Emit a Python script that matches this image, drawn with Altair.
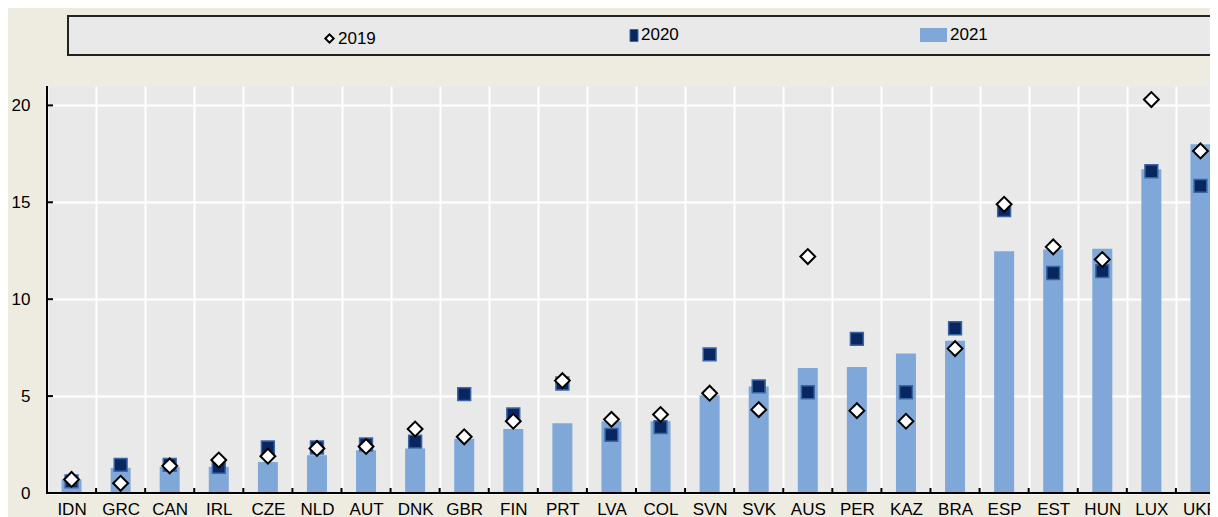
import altair as alt
import pandas as pd

countries = ["IDN", "GRC", "CAN", "IRL", "CZE", "NLD", "AUT", "DNK", "GBR", "FIN", "PRT", "LVA",
             "COL", "SVN", "SVK", "AUS", "PER", "KAZ", "BRA", "ESP", "EST", "HUN", "LUX", "UKR"]
v2019 = [0.7, 0.5, 1.4, 1.7, 1.9, 2.3, 2.4, 3.3, 2.9, 3.7, 5.8, 3.8,
         4.05, 5.15, 4.3, 12.2, 4.25, 3.7, 7.45, 14.9, 12.7, 12.05, 20.3, 17.65]
v2020 = [0.6, 1.45, 1.45, 1.35, 2.35, 2.35, 2.5, 2.65, 5.1, 4.05, 5.65, 3.0,
         3.4, 7.15, 5.5, 5.2, 7.95, 5.2, 8.5, 14.6, 11.35, 11.45, 16.6, 15.85]
v2021 = [0.7, 1.3, 1.35, 1.35, 1.6, 1.95, 2.2, 2.3, 2.8, 3.3, 3.6, 3.7,
         3.7, 5.05, 5.5, 6.45, 6.5, 7.2, 7.85, 12.47, 12.57, 12.6, 16.7, 18.0]
y_ticks = [0, 5, 10, 15, 20]
legend_labels = ["2019", "2020", "2021"]

FONT = "Liberation Sans, Arial, sans-serif"
FS = 17
BAR = "#7FA8D9"
NAVY = "#0A2660"
NAVY_EDGE = "#3A67A3"
W, H = 1178, 407

df = pd.DataFrame({"country": countries, "v2019": v2019, "v2020": v2020, "v2021": v2021})

xenc = alt.X("country:N", sort=countries, title=None,
             scale=alt.Scale(paddingInner=0, paddingOuter=0),
             axis=alt.Axis(labelAngle=0, labelFont=FONT, labelFontSize=FS, labelColor="#000000",
                           ticks=False, labelPadding=8, grid=True, gridColor="#FFFFFF",
                           gridWidth=2, tickBand="extent", domain=False))
yscale = alt.Scale(domain=[0, 21], nice=False)
yaxis = alt.Axis(values=y_ticks, labelFont=FONT, labelFontSize=FS, labelColor="#000000",
                 ticks=False, labelPadding=17, grid=True, gridColor="#FFFFFF", gridWidth=2,
                 domain=False, title=None)

base = alt.Chart(df)

bars = base.mark_bar(color=BAR, size=20).encode(
    x=xenc,
    y=alt.Y("v2021:Q", scale=yscale, axis=yaxis),
)
squares = base.mark_point(shape="square", filled=True, size=165, fill=NAVY, stroke=NAVY_EDGE,
                          strokeWidth=1.5, opacity=1).encode(
    x=alt.X("country:N", sort=countries),
    y=alt.Y("v2020:Q", scale=yscale),
)
diamonds = base.mark_point(shape="diamond", filled=True, size=220, fill="#FFFFFF",
                           stroke="#000000", strokeWidth=2, opacity=1).encode(
    x=alt.X("country:N", sort=countries),
    y=alt.Y("v2019:Q", scale=yscale),
)

# axis lines drawn above the bars
xline = alt.Chart(pd.DataFrame({"z": [0]})).mark_rule(color="#000000", strokeWidth=2).encode(
    y=alt.Y("z:Q", scale=yscale), x=alt.value(0), x2=alt.value(W)
)
yline = alt.Chart(pd.DataFrame({"z": [0]})).mark_rule(color="#000000", strokeWidth=2).encode(
    x=alt.value(0), y=alt.value(0), y2=alt.value(H + 1)
)
# inward tick marks on the axes
xt = base.mark_rule(color="#000000", strokeWidth=2).encode(
    x=alt.X("country:N", sort=countries, bandPosition=0),
    y=alt.value(H - 5), y2=alt.value(H),
)
yt_df = pd.DataFrame({"t": y_ticks[1:]})
yt = alt.Chart(yt_df).mark_rule(color="#000000", strokeWidth=2).encode(
    y=alt.Y("t:Q", scale=yscale), x=alt.value(0), x2=alt.value(6),
)

# legend box
leg_df = pd.DataFrame({"label": legend_labels})
box = alt.Chart(leg_df.head(1)).mark_rect(fill="#E9E9E9", stroke="#222222", strokeWidth=2).encode(
    x=alt.value(21), x2=alt.value(W + 30), y=alt.value(-70), y2=alt.value(-31)
)
leg_d = alt.Chart(leg_df.head(1)).mark_point(shape="diamond", filled=True, size=70, fill="#FFFFFF",
                                             stroke="#000000", strokeWidth=2, opacity=1).encode(
    x=alt.value(282.5), y=alt.value(-47.5)
)
leg_s = alt.Chart(leg_df.head(1)).mark_rect(fill=NAVY, stroke=NAVY_EDGE, strokeWidth=1).encode(
    x=alt.value(583), x2=alt.value(591), y=alt.value(-56.5), y2=alt.value(-44.5)
)
leg_b = alt.Chart(leg_df.head(1)).mark_rect(fill=BAR).encode(
    x=alt.value(873), x2=alt.value(900), y=alt.value(-58), y2=alt.value(-44)
)
leg_t = alt.Chart(leg_df).transform_window(idx="row_number()").transform_calculate(
    px="datum.idx == 1 ? 291 : (datum.idx == 2 ? 594 : 903)",
    py="datum.idx == 1 ? -47.5 : -50.8",
).mark_text(align="left", baseline="middle", font=FONT, fontSize=FS, color="#000000").encode(
    x=alt.X("px:Q", scale=None), y=alt.Y("py:Q", scale=None), text="label:N"
)

chart = alt.layer(bars, squares, diamonds, xline, yline, xt, yt,
                  box, leg_d, leg_s, leg_b, leg_t).properties(
    width=W, height=H,
    autosize=alt.AutoSizeParams(type="none"),
    padding={"left": 39, "top": 78, "right": -15, "bottom": 24},
    background="#EEECE1",
).configure_view(fill="#E9E9E9", strokeWidth=0)

chart.save("out.html", embed_options={"renderer": "svg", "actions": False})
